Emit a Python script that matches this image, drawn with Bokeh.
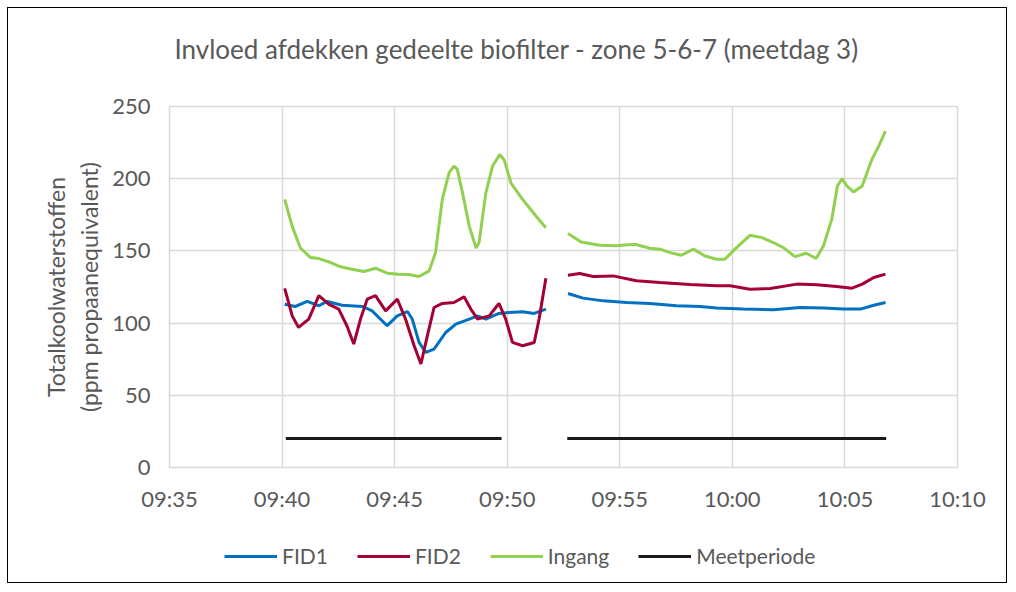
import numpy as np
import pandas as pd
from bokeh.plotting import figure
from bokeh.layouts import column
from bokeh.models import Legend, LegendItem, FixedTicker, DatetimeTickFormatter, Range1d, Title
from bokeh.embed import file_html
from bokeh.resources import INLINE

DAY = "2020-01-01 "

# ---- data ----
title_text = "Invloed afdekken gedeelte biofilter - zone 5-6-7 (meetdag 3)"
y_title = "Totalkoolwaterstoffen\n(ppm propaanequivalent)"
x_ticks = ["09:35", "09:40", "09:45", "09:50", "09:55", "10:00", "10:05", "10:10"]
y_ticks = [0, 50, 100, 150, 200, 250]
series_names = ["FID1", "FID2", "Ingang", "Meetperiode"]

ingang_t1 = ["09:40:07", "09:40:27", "09:40:49", "09:41:16", "09:41:38", "09:42:05", "09:42:36", "09:43:06",
             "09:43:38", "09:44:09", "09:44:40", "09:45:11", "09:45:38", "09:46:05", "09:46:32", "09:46:49",
             "09:47:07", "09:47:25", "09:47:38", "09:47:47", "09:48:01", "09:48:19", "09:48:37", "09:48:45",
             "09:49:03", "09:49:21", "09:49:40", "09:49:52", "09:50:10", "09:50:41", "09:51:17", "09:51:43"]
ingang_v1 = [185.7, 167, 152, 145.4, 144.7, 142.4, 139, 137.3, 135.7, 138, 134.6, 133.9, 133.6, 132.3, 136.2, 148.8,
             185.7, 204, 208.8, 206.5, 190, 167, 152, 155.8, 190, 208.8, 216.8, 213, 197, 185.7, 174, 166]
ingang_t2 = ["09:52:42", "09:53:17", "09:54:07", "09:54:51", "09:55:40", "09:56:20", "09:56:47", "09:57:14",
             "09:57:44", "09:58:16", "09:58:47", "09:59:18", "09:59:40", "10:00:11", "10:00:47", "10:01:19",
             "10:01:49", "10:02:16", "10:02:47", "10:03:17", "10:03:43", "10:04:03", "10:04:25", "10:04:40",
             "10:04:52", "10:05:05", "10:05:23", "10:05:46", "10:06:12", "10:06:30", "10:06:48"]
ingang_v2 = [162, 156.2, 153.9, 153.5, 154.6, 151.8, 151.2, 148.8, 147, 151.2, 146.5, 144.2, 144.2, 152.3, 160.8,
             159.2, 155.8, 152.3, 146, 148.4, 144.7, 153.5, 172, 195, 200, 195, 190.8, 195, 213.4, 222.6, 233]

fid2_t1 = ["09:40:07", "09:40:27", "09:40:44", "09:41:11", "09:41:38", "09:42:05", "09:42:31", "09:42:53",
           "09:43:11", "09:43:29", "09:43:47", "09:44:09", "09:44:36", "09:45:07", "09:45:29", "09:45:52",
           "09:46:10", "09:46:27", "09:46:45", "09:47:07", "09:47:38", "09:48:05", "09:48:23", "09:48:41",
           "09:49:12", "09:49:38", "09:49:56", "09:50:14", "09:50:41", "09:51:12", "09:51:25", "09:51:43"]
fid2_v1 = [124, 105, 97, 102.8, 119, 113, 109.7, 98, 85.5, 102.8, 116.6, 119, 108.5, 116.6, 102.8, 84.3,
           71.7, 91, 110.8, 113.6, 114.3, 118.2, 109.7, 102.8, 105, 113.6, 102.8, 86.6, 84.3, 86.6, 102.8, 131]
fid2_t2 = ["09:52:42", "09:53:13", "09:53:49", "09:54:42", "09:55:44", "09:56:47", "09:58:07", "09:59:18",
           "09:59:54", "10:00:47", "10:01:41", "10:02:52", "10:03:45", "10:04:38", "10:05:19", "10:05:46",
           "10:06:17", "10:06:48"]
fid2_v2 = [133.2, 134.3, 132.3, 132.7, 129.3, 128.1, 126.7, 125.8, 125.8, 123.5, 124, 127, 126.5, 125.3, 124.2,
           127, 131.6, 133.9]

fid1_t1 = ["09:40:07", "09:40:35", "09:41:07", "09:41:38", "09:42:00", "09:42:40", "09:43:34", "09:44:00",
           "09:44:40", "09:45:07", "09:45:34", "09:45:47", "09:46:05", "09:46:23", "09:46:45", "09:47:16",
           "09:47:43", "09:48:19", "09:48:41", "09:49:03", "09:49:38", "09:50:05", "09:50:41", "09:51:12",
           "09:51:43"]
fid1_v1 = [113.1, 111.5, 115, 112, 115, 112.4, 111.5, 108.5, 98.2, 105, 108, 102.8, 86.6, 79.7, 82, 93.5,
           99.3, 102.8, 105, 102.8, 106.7, 107.4, 107.8, 106.7, 109.7]
fid1_t2 = ["09:52:42", "09:53:22", "09:54:16", "09:55:18", "09:56:20", "09:57:31", "09:58:34", "09:59:18",
           "10:00:29", "10:01:49", "10:03:01", "10:04:03", "10:04:56", "10:05:41", "10:06:17", "10:06:48"]
fid1_v2 = [120.5, 117.3, 115.4, 114.3, 113.6, 112, 111.5, 110.4, 109.7, 109.2, 110.8, 110.4, 109.7, 109.7,
           112.4, 114.3]

meet_t1 = ["09:40:10", "09:49:45"]
meet_t2 = ["09:52:40", "10:06:50"]
meet_v = [20, 20]


def ms(ts):
    epoch = pd.Timestamp("1970-01-01")
    return [(pd.Timestamp(DAY + t) - epoch).total_seconds() * 1000.0 for t in ts]


def join(t1, v1, t2, v2):
    x = ms(t1) + [np.nan] + ms(t2)
    y = list(v1) + [np.nan] + list(v2)
    return x, y


GRAY = "#595959"
GRID = "#d9d9d9"
FONT = "Lato"
COLORS = ["#0070C0", "#A50034", "#92D050", "#1a1a1a"]

p = figure(title=None, frame_width=788, frame_height=361, output_backend="svg", toolbar_location=None,
           x_range=Range1d(ms(["09:35:00"])[0], ms(["10:10:00"])[0]),
           y_range=Range1d(0, 250),
           min_border_left=161, min_border_right=49, min_border_top=98, min_border_bottom=62,
           background_fill_color="white", border_fill_color="white")
p.outline_line_color = GRID
p.outline_line_width = 1.5

# spacer (white, added first = nearest the frame), then the real title above it
p.add_layout(Title(text=".", text_font_size="10px", text_color="white", standoff=32), "above")
p.add_layout(Title(text=title_text, align="left", offset=5, standoff=0, text_font=FONT,
                   text_font_size="26px", text_font_style="normal", text_color=GRAY), "above")

p.xaxis.ticker = FixedTicker(ticks=ms([t + ":00" for t in x_ticks]))
p.xaxis.formatter = DatetimeTickFormatter(seconds="%H:%M", minsec="%H:%M", minutes="%H:%M",
                                          hourmin="%H:%M", hours="%H:%M", days="%H:%M",
                                          context=None)
p.yaxis.ticker = FixedTicker(ticks=y_ticks)

for ax in (p.xaxis[0], p.yaxis[0]):
    ax.axis_line_color = None
    ax.major_tick_line_color = None
    ax.minor_tick_line_color = None
    ax.major_tick_out = 0
    ax.major_tick_in = 0
    ax.minor_tick_out = 0
    ax.major_label_text_font = FONT
    ax.major_label_text_color = GRAY
    ax.major_label_text_font_size = "22px"

p.xaxis.major_label_standoff = 17
p.yaxis.major_label_standoff = 19
p.yaxis.axis_label = y_title
p.yaxis.axis_label_text_font = FONT
p.yaxis.axis_label_text_font_size = "23px"
p.yaxis.axis_label_text_font_style = "normal"
p.yaxis.axis_label_text_color = GRAY
p.yaxis.axis_label_standoff = 6

p.xgrid.ticker = p.xaxis[0].ticker
p.ygrid.ticker = p.yaxis[0].ticker
for g in (p.xgrid[0], p.ygrid[0]):
    g.grid_line_color = GRID
    g.grid_line_width = 1.5

x, y = join(fid1_t1, fid1_v1, fid1_t2, fid1_v2)
p.line(x, y, line_color=COLORS[0], line_width=3)
x, y = join(fid2_t1, fid2_v1, fid2_t2, fid2_v2)
p.line(x, y, line_color=COLORS[1], line_width=3)
x, y = join(ingang_t1, ingang_v1, ingang_t2, ingang_v2)
p.line(x, y, line_color=COLORS[2], line_width=3)
x, y = join(meet_t1, meet_v, meet_t2, meet_v)
p.line(x, y, line_color=COLORS[3], line_width=3)

# legend strip below the chart (same line styles, legend glyphs only)
pl = figure(width=998, height=53, output_backend="svg", toolbar_location=None,
            x_range=Range1d(0, 1), y_range=Range1d(0, 1), min_border=0,
            background_fill_color="white", border_fill_color="white")
pl.outline_line_color = None
pl.xaxis.visible = False
pl.yaxis.visible = False
pl.xgrid.visible = False
pl.ygrid.visible = False
items = []
for name, col in zip(series_names, COLORS):
    r = pl.line(x=[np.nan], y=[np.nan], line_color=col, line_width=3)
    items.append(LegendItem(label=name, renderers=[r]))
legend = Legend(items=items, orientation="horizontal", location=(55, 14),
                glyph_width=53, glyph_height=20, label_standoff=5, spacing=29,
                padding=0, margin=0, border_line_color=None, background_fill_alpha=0,
                label_text_font=FONT, label_text_font_size="21px", label_text_color=GRAY)
pl.add_layout(legend)

layout = column(p, pl, spacing=0,
                styles={"border": "1px solid #000000", "margin-left": "7px", "margin-top": "7px"})

open("out.html", "w").write(file_html(layout, INLINE))
